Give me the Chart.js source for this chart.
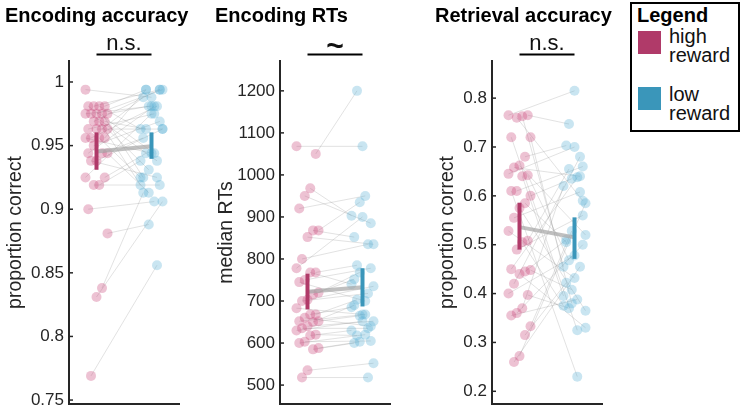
<!DOCTYPE html>
<html><head><meta charset="utf-8">
<script src="https://cdn.jsdelivr.net/npm/chart.js@4/dist/chart.umd.min.js"></script>
<style>
body{margin:0;background:#fff;width:744px;height:410px;overflow:hidden;position:relative;font-family:'Liberation Sans',Arial,Helvetica,sans-serif;}
canvas{position:absolute;top:0;}
.title{position:absolute;top:5px;font-weight:bold;font-size:20px;line-height:20px;color:#000;white-space:nowrap;}
#legend{position:absolute;left:630px;top:2px;width:110px;height:130px;border:2px solid #000;box-sizing:border-box;}
#legend .lt{position:absolute;left:5px;top:1px;font-weight:bold;font-size:20px;line-height:20px;}
#legend .sw{position:absolute;left:6px;width:23px;height:23px;}
#legend .tx{position:absolute;left:37px;font-size:20px;line-height:19px;color:#111;}
</style></head><body>
<canvas id="c1" width="190" height="410" style="left:0px"></canvas>
<canvas id="c2" width="200" height="410" style="left:200px"></canvas>
<canvas id="c3" width="195" height="410" style="left:420px"></canvas>
<div id="legend"></div>
<script>
// ---------- data ----------
const groups = ['high reward', 'low reward'];
const panelTitles = ['Encoding accuracy', 'Encoding RTs', 'Retrieval accuracy'];
const yLabels = ['proportion correct', 'median RTs', 'proportion correct'];
const sigLabels = ['n.s.', '~', 'n.s.'];

const encAccTicks = [0.75, 0.8, 0.85, 0.9, 0.95, 1];
const encAccHigh = [0.994,0.981,0.981,0.981,0.981,0.975,0.975,0.975,0.975,0.975,0.969,0.969,0.969,0.963,0.963,0.963,0.963,0.956,0.956,0.956,0.956,0.950,0.944,0.944,0.944,0.938,0.938,0.925,0.925,0.919,0.919,0.900,0.881,0.838,0.831,0.769];
const encAccLow  = [0.988,0.994,0.963,0.994,0.944,0.981,0.925,0.994,0.938,0.981,0.963,0.919,0.994,0.975,0.931,0.988,0.963,0.981,0.944,0.994,0.925,0.969,0.981,0.913,0.956,0.963,0.925,0.975,0.944,0.938,0.919,0.906,0.888,0.913,0.906,0.856];
const encAccMean = [0.9453, 0.9495];
const encAccCI = [[0.931, 0.9604], [0.9396, 0.9604]];

const encRTTicks = [500, 600, 700, 800, 900, 1000, 1100, 1200];
const encRTHigh = [1068,1050,968,950,920,868,868,852,800,778,768,768,750,745,720,715,703,700,683,668,668,660,652,652,650,640,635,630,620,618,603,600,588,585,535,518];
const encRTLow  = [1068,1200,903,885,950,935,852,835,835,900,785,740,778,700,768,752,735,718,668,703,685,640,668,665,690,652,635,652,618,630,605,620,603,600,552,518];
const encRTMean = [722, 733];
const encRTCI = [[680, 765], [687, 778]];

const retAccTicks = [0.2, 0.3, 0.4, 0.5, 0.6, 0.7, 0.8];
const retAccHigh = [0.765,0.765,0.763,0.760,0.720,0.720,0.680,0.662,0.658,0.645,0.642,0.640,0.610,0.610,0.600,0.585,0.575,0.555,0.528,0.508,0.505,0.490,0.450,0.448,0.445,0.440,0.420,0.400,0.397,0.370,0.360,0.355,0.333,0.315,0.272,0.260];
const retAccLow  = [0.815,0.747,0.455,0.590,0.325,0.380,0.703,0.520,0.640,0.700,0.468,0.395,0.660,0.230,0.635,0.505,0.365,0.608,0.432,0.655,0.375,0.560,0.638,0.408,0.510,0.330,0.680,0.478,0.370,0.620,0.500,0.388,0.528,0.422,0.585,0.455];
const retAccMean = [0.536, 0.515];
const retAccCI = [[0.490, 0.586], [0.471, 0.556]];

// ---------- style / layout ----------
const FONT = "'Liberation Sans', Arial, Helvetica, sans-serif";
Chart.defaults.font.family = FONT;
const HIGH = '#b03a69', LOW = '#3a96ba';
const HIGH_PT = 'rgba(200,70,120,0.33)', LOW_PT = 'rgba(80,170,210,0.31)';
const AX = '#262626';
// deterministic horizontal jitter (layout only)
const jit = (i, s) => ((((i * 7 + s) % 9) - 4) * 0.05);

const panels = [
  {id:'c1', left:0,   axisW:69, padR:11, min:0.7469, max:1.0165, ticks:encAccTicks, high:encAccHigh, low:encAccLow, mean:encAccMean, ci:encAccCI, labelPad:3.6, titleLeft:5},
  {id:'c2', left:200, axisW:80, padR:10, min:455,    max:1271,   ticks:encRTTicks,  high:encRTHigh,  low:encRTLow,  mean:encRTMean,  ci:encRTCI,  labelPad:14.6, titleLeft:215},
  {id:'c3', left:420, axisW:72, padR:13, min:0.174,  max:0.876,  ticks:retAccTicks, high:retAccHigh, low:retAccLow, mean:retAccMean, ci:retAccCI, labelPad:15.6, titleLeft:435}
];

const decor = {
  id: 'decor',
  afterDraw(chart, args, opts) {
    const {ctx, chartArea, scales} = chart;
    const x = scales.x, y = scales.y;
    ctx.save();
    ctx.strokeStyle = AX; ctx.lineWidth = 1.5;
    y.ticks.forEach(t => {
      const py = y.getPixelForValue(t.value);
      ctx.beginPath(); ctx.moveTo(chartArea.left, py); ctx.lineTo(chartArea.left + 4, py); ctx.stroke();
    });
    const x1 = x.getPixelForValue(1), x2 = x.getPixelForValue(2);
    const ly = chartArea.top - 6.5;
    ctx.strokeStyle = '#000'; ctx.lineWidth = 2;
    ctx.beginPath(); ctx.moveTo(x1, ly); ctx.lineTo(x2, ly); ctx.stroke();
    ctx.fillStyle = '#111'; ctx.textAlign = 'center'; ctx.textBaseline = 'alphabetic';
    if (opts.text === '~') { ctx.font = 'bold 30px ' + FONT; ctx.fillText(opts.text, (x1 + x2) / 2, ly + 1); }
    else { ctx.font = '22px ' + FONT; ctx.fillText(opts.text, (x1 + x2) / 2, ly - 4.5); }
    ctx.restore();
  }
};

const fmt = v => String(Number(v.toFixed(3)));

panels.forEach((p, k) => {
  const ds = [];
  p.high.forEach((h, i) => {
    ds.push({data:[{x:1 + jit(i, 0), y:h}, {x:2 + jit(i, 4), y:p.low[i]}], showLine:true,
      borderColor:'rgba(140,140,140,0.32)', borderWidth:0.8, pointRadius:0, order:4});
  });
  ds.push({label:groups[0], data:p.high.map((h, i) => ({x:1 + jit(i, 0), y:h})), backgroundColor:HIGH_PT, borderWidth:0, pointRadius:5, order:3});
  ds.push({label:groups[1], data:p.low.map((l, i) => ({x:2 + jit(i, 4), y:l})), backgroundColor:LOW_PT, borderWidth:0, pointRadius:5, order:3});
  ds.push({data:[{x:1, y:p.mean[0]}, {x:2, y:p.mean[1]}], showLine:true, borderColor:'rgba(165,165,165,0.7)', borderWidth:4, pointRadius:0, order:2});
  ds.push({data:[{x:1, y:p.ci[0][0]}, {x:1, y:p.ci[0][1]}], showLine:true, borderColor:HIGH, borderWidth:4, pointRadius:0, order:1});
  ds.push({data:[{x:2, y:p.ci[1][0]}, {x:2, y:p.ci[1][1]}], showLine:true, borderColor:LOW, borderWidth:4, pointRadius:0, order:1});

  new Chart(document.getElementById(p.id), {
    type: 'scatter',
    data: {datasets: ds},
    plugins: [decor],
    options: {
      responsive:false, animation:false, events:[],
      layout:{padding:{top:61, bottom:6, left:0, right:p.padR}},
      plugins:{legend:{display:false}, tooltip:{enabled:false}, decor:{text:sigLabels[k]}},
      scales:{
        x:{type:'linear', min:0.5, max:2.5,
          ticks:{display:false},
          grid:{display:true, drawOnChartArea:false, drawTicks:false, color:'rgba(0,0,0,0)'},
          border:{display:true, color:AX, width:2},
          afterFit: s => { s.height = 0; s.paddingLeft = 0; s.paddingRight = 0; }
        },
        y:{type:'linear', min:p.min, max:p.max,
          afterBuildTicks: s => { s.ticks = p.ticks.map(v => ({value:v})); },
          afterFit: s => { s.width = p.axisW; s.paddingTop = 0; s.paddingBottom = 0; },
          ticks:{font:{size:17}, color:AX, padding:5, callback: v => fmt(v)},
          grid:{display:true, drawOnChartArea:false, drawTicks:false, color:'rgba(0,0,0,0)'},
          border:{display:true, color:AX, width:2},
          title:{display:true, text:yLabels[k], font:{size:19.5}, color:AX, padding:{top:p.labelPad, bottom:0}}
        }
      }
    }
  });

  const t = document.createElement('div');
  t.className = 'title'; t.style.left = p.titleLeft + 'px'; t.textContent = panelTitles[k];
  document.body.appendChild(t);
});

// legend
const lg = document.getElementById('legend');
lg.innerHTML = '<div class="lt">Legend</div>' +
  '<div class="sw" style="top:27px;background:' + HIGH + '"></div>' +
  '<div class="tx" style="top:23px">' + groups[0].replace(' ', '<br>') + '</div>' +
  '<div class="sw" style="top:83px;background:' + LOW + '"></div>' +
  '<div class="tx" style="top:81px">' + groups[1].replace(' ', '<br>') + '</div>';
</script>
</body></html>
